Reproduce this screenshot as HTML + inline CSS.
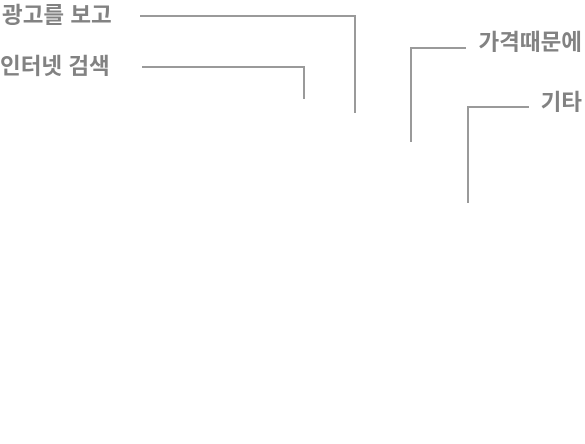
<!DOCTYPE html>
<html><head><meta charset="utf-8"><style>
html,body{margin:0;padding:0;background:#fff;width:585px;height:444px;overflow:hidden}
text{font-family:"Liberation Sans","Noto Sans CJK KR",sans-serif;font-size:22.5px;font-weight:bold;fill:#828282}
</style></head><body>
<svg width="585" height="444">
<g id="labels"></g>
</svg>
<script>
const categories=["광고를 보고","인터넷 검색","가격때문에","기타"];
const values=[1,1,1,1];
const layout=[
 {tx:2,ty:23,anchor:"start",pts:[[140,16],[355,16],[355,113]]},
 {tx:0,ty:74,anchor:"start",pts:[[142,67],[304,67],[304,99]]},
 {tx:582,ty:50,anchor:"end",pts:[[466,48],[411,48],[411,142]]},
 {tx:582,ty:110,anchor:"end",pts:[[529,107],[468,107],[468,203]]}
];
const g=document.getElementById('labels');
const ns="http://www.w3.org/2000/svg";
categories.forEach((c,i)=>{
 const L=layout[i];
 const p=document.createElementNS(ns,'polyline');
 p.setAttribute('points',L.pts.map(q=>q.join(',')).join(' '));
 p.setAttribute('fill','none');p.setAttribute('stroke','#9a9a9a');p.setAttribute('stroke-width','2');
 
 
 g.appendChild(p);
 const t=document.createElementNS(ns,'text');
 t.setAttribute('x',L.tx);t.setAttribute('y',L.ty);t.setAttribute('text-anchor',L.anchor);
 t.textContent=c;
 
 
 g.appendChild(t);
});
</script>
</body></html>
